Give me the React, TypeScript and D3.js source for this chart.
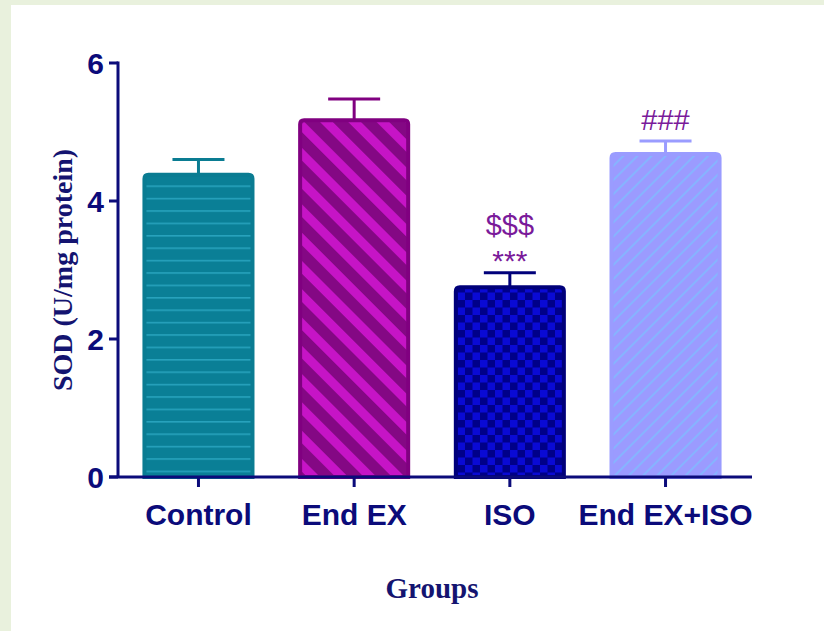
import * as d3 from 'd3';

const groups = ['Control', 'End EX', 'ISO', 'End EX+ISO'];
const means = [4.38, 5.17, 2.75, 4.68];
const sems = [0.22, 0.31, 0.21, 0.19];
const yTicks = [0, 2, 4, 6];
const marks = [[], [], ['$$$', '***'], ['###']];

const W = 824;
const H = 631;
const NAVY = '#0b0b7a';

const fills = ['url(#pControl)', 'url(#pEnd)', 'url(#pIso)', 'url(#pBoth)'];
const edges = ['#0a7c92', '#800080', '#00007a', '#9a9cff'];

export default function App() {
  const x = d3.scaleBand<string>().domain(groups).range([120, 744]).paddingInner(0.306).paddingOuter(0.157);
  const y = d3.scaleLinear().domain([0, 6]).range([477, 63]);
  const bw = x.bandwidth();

  return (
    <svg width={W} height={H} style={{ position: 'fixed', left: 0, top: 0 }}>
      <defs>
        <pattern id="pControl" patternUnits="userSpaceOnUse" width={8} height={12.4} y={y(0) + 6}>
          <rect width={8} height={12.4} fill="#0a7f96" />
          <rect y={0} width={8} height={1.6} fill="#27a2bc" />
        </pattern>
        <pattern id="pEnd" patternUnits="userSpaceOnUse" width={20} height={20} patternTransform="rotate(-45)">
          <rect width={20} height={20} fill="#840884" />
          <rect width={9} height={20} fill="#c614c6" />
        </pattern>
        <pattern id="pIso" patternUnits="userSpaceOnUse" width={15} height={15}>
          <rect width={15} height={15} fill="#000088" />
          <rect width={7.5} height={7.5} fill="#0a0ad4" />
          <rect x={7.5} y={7.5} width={7.5} height={7.5} fill="#0a0ad4" />
        </pattern>
        <pattern id="pBoth" patternUnits="userSpaceOnUse" width={10} height={10} patternTransform="rotate(45)">
          <rect width={10} height={10} fill="#9b9bff" />
          <rect width={2} height={10} fill="#86b4ff" />
        </pattern>
      </defs>

      <rect width={W} height={H} fill="#e9f1dd" />
      <rect x={11} y={5} width={W - 11} height={H - 5} fill="#ffffff" />

      {groups.map((g, i) => {
        const x0 = x(g) as number;
        const cx = x0 + bw / 2;
        const top = y(means[i]);
        const errTop = y(means[i] + sems[i]);
        const r = 4;
        const path = `M${x0},${y(0)} V${top + r} Q${x0},${top} ${x0 + r},${top} H${x0 + bw - r} Q${x0 + bw},${top} ${x0 + bw},${top + r} V${y(0)} Z`;
        return (
          <g key={g}>
            <line x1={cx} x2={cx} y1={top} y2={errTop} stroke={edges[i]} strokeWidth={3} />
            <line x1={cx - 26} x2={cx + 26} y1={errTop} y2={errTop} stroke={edges[i]} strokeWidth={3} />
            <path d={path} fill={fills[i]} stroke={edges[i]} strokeWidth={4} />
            {marks[i].map((m, j) => (
              <text
                key={m}
                x={cx}
                y={errTop - (m === '***' ? 2 : 11) - (marks[i].length - 1 - j) * 27}
                textAnchor="middle"
                fontFamily="Liberation Sans, Arial, sans-serif"
                fontSize={m === '***' ? 30 : 29}
                fill="#7a1a9a"
              >
                {m}
              </text>
            ))}
          </g>
        );
      })}

      {/* y axis */}
      <line x1={118} x2={118} y1={y(6) - 1.5} y2={y(0)} stroke={NAVY} strokeWidth={3} />
      {yTicks.map((t) => (
        <g key={t}>
          <line x1={109} x2={118} y1={y(t)} y2={y(t)} stroke={NAVY} strokeWidth={3} />
          <text
            x={104}
            y={y(t)}
            dy="0.36em"
            textAnchor="end"
            fontFamily="Liberation Sans, Arial, sans-serif"
            fontWeight="bold"
            fontSize={30}
            fill={NAVY}
          >
            {t}
          </text>
        </g>
      ))}

      {/* x axis */}
      <line x1={109} x2={752} y1={y(0)} y2={y(0)} stroke={NAVY} strokeWidth={3} />
      {groups.map((g) => {
        const cx = (x(g) as number) + bw / 2;
        return (
          <g key={g}>
            <line x1={cx} x2={cx} y1={y(0)} y2={y(0) + 10} stroke={NAVY} strokeWidth={3} />
            <text
              x={cx}
              y={525}
              textAnchor="middle"
              fontFamily="Liberation Sans, Arial, sans-serif"
              fontWeight="bold"
              fontSize={30}
              fill={NAVY}
            >
              {g}
            </text>
          </g>
        );
      })}

      <text
        transform={`translate(72,${y(3)}) rotate(-90)`}
        textAnchor="middle"
        fontFamily="Liberation Serif, serif"
        fontWeight="bold"
        fontSize={28}
        fill="#141470"
      >
        SOD (U/mg protein)
      </text>
      <text
        x={432}
        y={598}
        textAnchor="middle"
        fontFamily="Liberation Serif, serif"
        fontWeight="bold"
        fontSize={29}
        fill="#141470"
      >
        Groups
      </text>
    </svg>
  );
}
